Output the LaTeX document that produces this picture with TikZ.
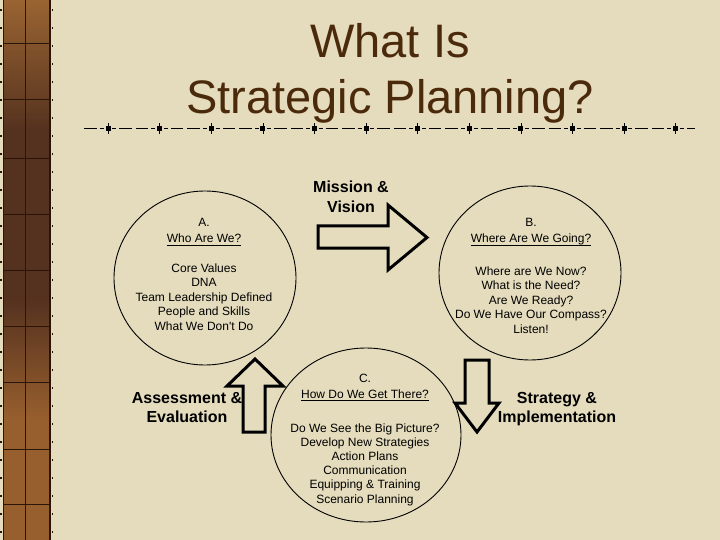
\documentclass[tikz,border=0pt]{standalone}
\usepackage{fontspec}
\setmainfont{Liberation Sans}[Ligatures=TeXOff]
\usetikzlibrary{shapes.geometric}
\definecolor{bg}{HTML}{E4DCBD}
\definecolor{titlec}{HTML}{4B2A0B}
\definecolor{stripTop}{HTML}{9A6432}
\definecolor{stripMid}{HTML}{55321F}
\definecolor{stripBot}{HTML}{985F2E}
\definecolor{stripLine}{HTML}{2A1608}
\begin{document}
\begin{tikzpicture}[x=1pt,y=-1pt,
  body/.style={font=\fontsize{12}{14}\selectfont, inner sep=0pt, anchor=base},
  lab/.style={font=\fontsize{16}{19}\selectfont\bfseries, inner sep=0pt, anchor=base},
  ttl/.style={font=\fontsize{47}{56}\selectfont, text=titlec, inner sep=0pt, anchor=base},
  ring/.style={draw, ellipse, line width=0.9pt, inner sep=0pt},
  blockarrow/.style={draw, line width=3pt, line join=miter},
  uline/.style={line width=0.9pt},
  sq/.style={fill=black},
  ]
\useasboundingbox (0,0) rectangle (720,540);
\fill[bg] (0,0) rectangle (720,540);
% left decorative strip
\shade[top color=stripTop, bottom color=stripMid] (3,0) rectangle (50,130);
\fill[stripMid] (3,129.5) rectangle (50,300.5);
\shade[top color=stripMid, bottom color=stripBot] (3,300) rectangle (50,420);
\fill[stripBot] (3,419.5) rectangle (50,540);
\draw[stripLine, line width=1.2pt] (3.5,0) -- (3.5,540);
\draw[stripLine, line width=1.5pt] (50,0) -- (50,540);
\draw[stripLine, line width=0.9pt] (25,0) -- (25,540);
\foreach \yy in {43,99,158,214,270,326,382,449,504}
  \draw[stripLine, line width=0.9pt] (3.5,\yy) -- (50,\yy);
\foreach \yy in {9,27,45,63,81,99,117,135,153,171,189,207,225,243,261,279,297,315,333,351,369,387,405,423,441,459,477,495,513,531}
  {\fill[stripLine] (0,\yy) rectangle (1.5,\yy+2);
   \fill[stripLine] (51.5,\yy) rectangle (53,\yy+2);}
% title
\node[ttl] (t1) at (390,58) {What Is};
\node[ttl] (t2) at (390,114) {Strategic Planning?};
% dashed rule with squares
\draw[line width=1pt, dash pattern=on 4pt off 3pt on 12.5pt off 4pt on 12.5pt off 3pt on 4pt off 8.6pt, dash phase=23.3pt] (84,129) -- (695,129);
\foreach \k in {0,...,11}
  {\fill[sq] ({108+51.6*\k-2.5},126.5) rectangle ({108+51.6*\k+2.5},131.5);
   \draw[line width=0.6pt] ({108+51.6*\k},123.5) -- ({108+51.6*\k},134.5);}
% circles
\node[ring, minimum width=182pt, minimum height=174pt] (cA) at (205,278) {};
\node[ring, minimum width=182pt, minimum height=174pt] (cB) at (530,273) {};
\node[ring, minimum width=190pt, minimum height=174pt] (cC) at (366,435) {};
% circle A text
\node[body] (hA0) at (204,226) {A.};
\node[body] (hA) at (204,243) {Who Are We?};
\draw[uline] ([yshift=-2pt]hA.base west) -- ([yshift=-2pt]hA.base east);
\foreach \t [count=\i] in {Core Values,DNA,Team Leadership Defined,People and Skills,What We Don't Do}
  \node[body] (a\i) at (204,{272+14.5*(\i-1)}) {\t};
% circle B text
\node[body] (hB0) at (531,226) {B.};
\node[body] (hB) at (531,243) {Where Are We Going?};
\draw[uline] ([yshift=-2pt]hB.base west) -- ([yshift=-2pt]hB.base east);
\foreach \t [count=\i] in {Where are We Now?,What is the Need?,Are We Ready?,Do We Have Our Compass?,Listen!}
  \node[body] (b\i) at (531,{275+14.5*(\i-1)}) {\t};
% circle C text
\node[body] (hC0) at (365,382) {C.};
\node[body] (hC) at (365,398) {How Do We Get There?};
\draw[uline] ([yshift=-2.5pt]hC.base west) -- ([yshift=-2.5pt]hC.base east);
\foreach \t [count=\i] in {Do We See the Big Picture?,Develop New Strategies,Action Plans,Communication,Equipping \& Training,Scenario Planning}
  \node[body] (c\i) at (365,{432+14.2*(\i-1)}) {\t};
% bold labels
\node[lab] (m1) at (351,193) {Mission \&};
\node[lab] (m2) at (351,212) {Vision};
\node[lab] (e1) at (187,403) {Assessment \&};
\node[lab] (e2) at (187,422) {Evaluation};
\node[lab] (s1) at (557,403) {Strategy \&};
\node[lab] (s2) at (557,422) {Implementation};
% block arrows
\draw[blockarrow] (318,226) -- (388,226) -- (388,205) -- (427,237.5) -- (388,270) -- (388,248) -- (318,248) -- cycle;
\draw[blockarrow] (243,432) -- (243,386) -- (227,386) -- (255,359) -- (283,386) -- (265,386) -- (265,432) -- cycle;
\draw[blockarrow] (465,360) -- (489,360) -- (489,403) -- (499,403) -- (477,432) -- (455,403) -- (465,403) -- cycle;
\end{tikzpicture}
\end{document}
